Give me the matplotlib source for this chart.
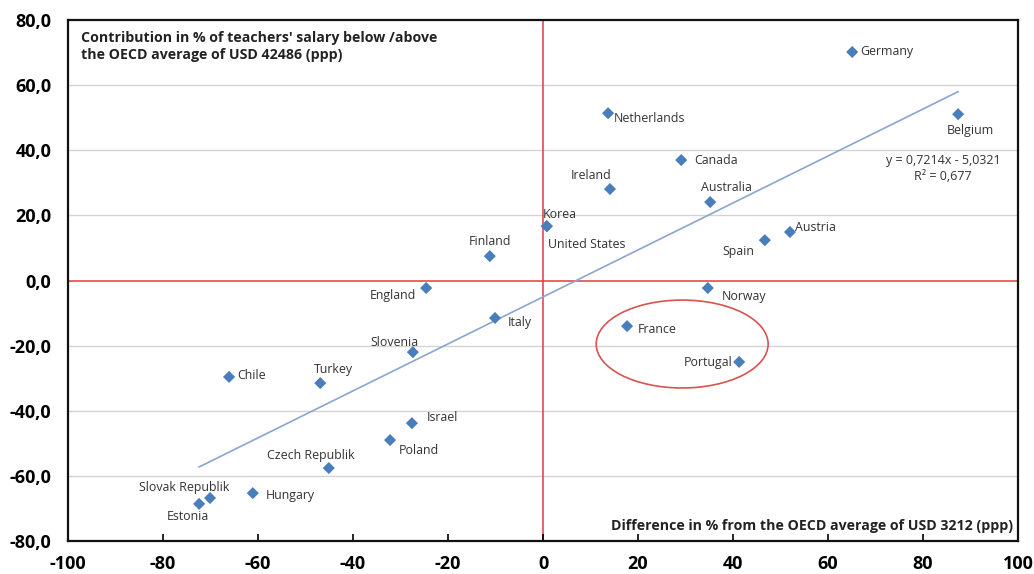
import matplotlib
matplotlib.use("Agg")
import matplotlib.pyplot as plt
from matplotlib.patches import Ellipse
import numpy as np

plt.rcParams['font.family'] = ['Open Sans', 'DejaVu Sans']

countries = ["Germany", "Netherlands", "Belgium", "Canada", "Ireland", "Australia",
             "Korea", "United States", "Finland", "Spain", "Austria", "England",
             "Norway", "Italy", "France", "Portugal", "Slovenia", "Chile", "Turkey",
             "Israel", "Poland", "Czech Republik", "Hungary", "Slovak Republik", "Estonia"]
x_vals = [65.1, 13.7, 87.4, 29.1, 14.1, 35.2, 0.8, 0.8, -11.2, 46.7, 52.0, -24.6,
          34.7, -10.1, 17.7, 41.3, -27.4, -66.1, -46.9, -27.6, -32.2, -45.1, -61.1,
          -70.1, -72.4]
y_vals = [70.2, 51.4, 51.1, 37.0, 28.1, 24.1, 16.7, 16.7, 7.5, 12.4, 14.9, -2.3,
          -2.3, -11.5, -14.0, -25.0, -22.0, -29.6, -31.5, -43.8, -49.0, -57.6, -65.3,
          -66.8, -68.6]
slope, intercept = 0.7214, -5.0321
x_ticks = [-100, -80, -60, -40, -20, 0, 20, 40, 60, 80, 100]
y_ticks = [-80, -60, -40, -20, 0, 20, 40, 60, 80]

# label placement (offset pixels, alignment)
label_pos = {
    "Germany": (8, 0, "left"), "Netherlands": (6, -5, "left"), "Belgium": (12, -16, "center"),
    "Canada": (13, 0, "left"), "Ireland": (-19, 14, "center"), "Australia": (-9, 15, "left"),
    "Korea": (-4, 12, "left"), "United States": (1, -18, "left"), "Finland": (0, 15, "center"),
    "Spain": (-27, -11, "center"), "Austria": (5, 5, "left"), "England": (-10, -7, "right"),
    "Norway": (14, -8, "left"), "Italy": (13, -5, "left"), "France": (11, -3, "left"),
    "Portugal": (-7, -1, "right"), "Slovenia": (-18, 10, "center"), "Chile": (8, 1, "left"),
    "Turkey": (13, 14, "center"), "Israel": (15, 6, "left"), "Poland": (9, -10, "left"),
    "Czech Republik": (-18, 13, "center"), "Hungary": (13, -2, "left"),
    "Slovak Republik": (-26, 11, "center"), "Estonia": (-11, -13, "center"),
}

fig = plt.figure(figsize=(10.34, 5.74), dpi=100)
ax = fig.add_axes([0.0658, 0.0575, 0.9187, 0.9075])
ax.set_xlim(-100, 100)
ax.set_ylim(-80, 80)

for yt in y_ticks:
    if yt not in (0, -80, 80):
        ax.axhline(yt, color="#d4d4d4", lw=1, zorder=0)
ax.axhline(0, color="#e03c3c", lw=1.1, zorder=1)
ax.axvline(0, color="#e03c3c", lw=1.1, zorder=1)

xl = np.array([min(x_vals), max(x_vals)])
ax.plot(xl, slope * xl + intercept, color="#8aa6cf", lw=1.2, zorder=2)

ax.scatter(x_vals, y_vals, marker="D", s=38, color="#4a7ebb", zorder=3, edgecolors="none")

for c, xv, yv in zip(countries, x_vals, y_vals):
    dx, dy, ha = label_pos[c]
    ax.annotate(c, (xv, yv), xytext=(dx, dy), textcoords="offset pixels",
                ha=ha, va="center", fontsize=8.9, color="#333333", zorder=4)

ax.add_patch(Ellipse((29.3, -19.5), 36.2, 27.0, fill=False, edgecolor="#d9534f", lw=1.2, zorder=4))

ax.text(-97.3, 76.8, "Contribution in % of teachers' salary below /above\nthe OECD average of USD 42486 (ppp)",
        ha="left", va="top", fontsize=10.2, fontweight="bold", color="#222222", linespacing=1.35)
ax.text(99, -75.5, "Difference in % from the OECD average of USD 3212 (ppp)",
        ha="right", va="center", fontsize=10.2, fontweight="bold", color="#222222")
ax.text(84.2, 34.4, "y = 0,7214x - 5,0321\nR² = 0,677", ha="center", va="center",
        fontsize=9.0, color="#333333", linespacing=1.35)

ax.set_xticks(x_ticks)
ax.set_xticklabels([str(t) for t in x_ticks], fontsize=13, fontweight="bold")
ax.set_yticks(y_ticks)
ax.set_yticklabels([f"{t:.1f}".replace(".", ",") for t in y_ticks], fontsize=13, fontweight="bold")
ax.tick_params(axis="x", direction="in", length=5, width=1.2, pad=10)
ax.tick_params(axis="y", length=0, pad=12)
for s in ax.spines.values():
    s.set_linewidth(1.6)
    s.set_color("#111111")

fig.savefig("out.png", dpi=100)
